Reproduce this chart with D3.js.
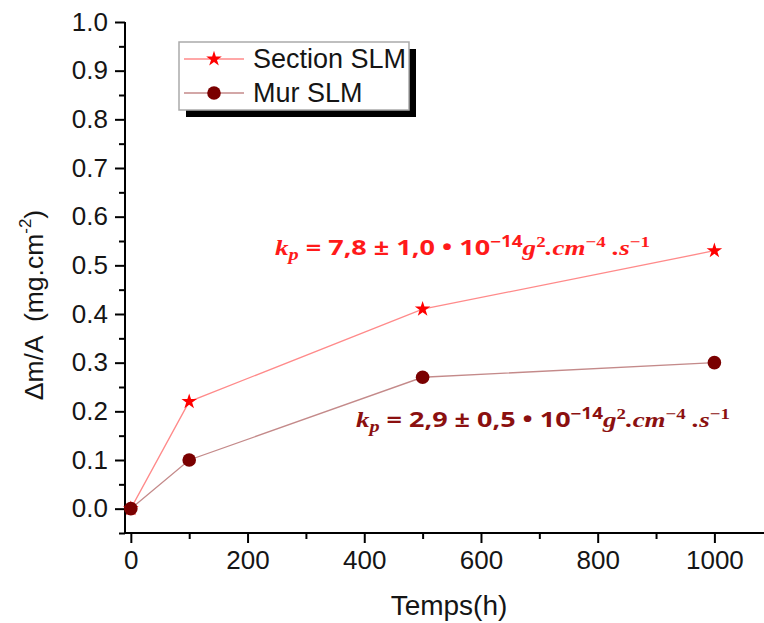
<!DOCTYPE html>
<html><head><meta charset="utf-8">
<script src="https://cdn.jsdelivr.net/npm/d3@7"></script>
<style>body{margin:0;background:#fff}svg{display:block}</style>
</head><body>
<svg id="c" width="764" height="623"></svg>
<script>
const timeH = [0, 100, 500, 1000];
const sectionSLM = [0, 0.22, 0.41, 0.53];
const murSLM = [0, 0.10, 0.27, 0.30];
const seriesNames = ["Section SLM", "Mur SLM"];
const yTicks = [0.0,0.1,0.2,0.3,0.4,0.5,0.6,0.7,0.8,0.9,1.0];
const xTicks = [0,200,400,600,800,1000];

const svg = d3.select("#c");
const x = d3.scaleLinear().domain([-10, 1085]).range([125, 764]);
const y = d3.scaleLinear().domain([-0.05, 1.0]).range([533, 22]);
const font = "'Liberation Sans', Arial, sans-serif";

const yAxis = d3.axisLeft(y).tickValues(yTicks).tickFormat(d3.format(".1f")).tickSize(10).tickPadding(7);
const yMinor = d3.axisLeft(y).tickValues(d3.range(-0.05, 1.0, 0.1).map(v=>+v.toFixed(2))).tickFormat("").tickSize(6);
const xAxis = d3.axisBottom(x).tickValues(xTicks).tickFormat(d3.format("d")).tickSize(10).tickPadding(8);
const xMinor = d3.axisBottom(x).tickValues([100,300,500,700,900]).tickFormat("").tickSize(6);

function style(g){
  g.select(".domain").attr("stroke","#000").attr("stroke-width",2);
  g.selectAll(".tick line").attr("stroke","#000").attr("stroke-width",2);
  g.selectAll(".tick text").attr("font-family",font).attr("font-size",26).attr("fill","#151515");
}
const gy = svg.append("g").attr("transform","translate(125,0)").call(yAxis).call(style);
gy.select(".domain").attr("d", `M0,${y(1.0)}V${y(-0.05)}`);
svg.append("g").attr("transform","translate(125,0)").call(yMinor).call(style).select(".domain").remove();
const gx = svg.append("g").attr("transform","translate(0,533)").call(xAxis).call(style);
gx.select(".domain").attr("d", `M125,0H764`);
svg.append("g").attr("transform","translate(0,533)").call(xMinor).call(style).select(".domain").remove();

// axis titles
const yt = svg.append("text").attr("transform","translate(43,305) rotate(-90)").style("white-space","pre")
  .attr("text-anchor","middle").attr("font-family",font).attr("font-size",26.5).attr("fill","#151515");
yt.append("tspan").text("\u0394m/A  (mg.cm");
yt.append("tspan").attr("font-size",17).attr("dy",-12).text("-2");
yt.append("tspan").attr("dy",12).text(")");
svg.append("text").attr("x",449).attr("y",615).attr("text-anchor","middle")
  .attr("font-family",font).attr("font-size",28).attr("fill","#151515").text("Temps(h)");

// series
const line = d3.line().x((d,i)=>x(timeH[i])).y(d=>y(d));
const star = d3.symbol().type(d3.symbolStar).size(75);
const colors = {secLine:"#ff8a8a", secMark:"#ff0000", murLine:"#c48a8a", murMark:"#7a0000"};

svg.append("path").datum(sectionSLM).attr("d",line).attr("fill","none").attr("stroke",colors.secLine).attr("stroke-width",1.3);
svg.selectAll(".st").data(sectionSLM).enter().append("path")
  .attr("transform",(d,i)=>`translate(${x(timeH[i])},${y(d)})`)
  .attr("d",star).attr("fill",colors.secMark);

svg.append("path").datum(murSLM).attr("d",line).attr("fill","none").attr("stroke",colors.murLine).attr("stroke-width",1.3);
svg.selectAll(".ci").data(murSLM).enter().append("circle")
  .attr("cx",(d,i)=>x(timeH[i])).attr("cy",d=>y(d)).attr("r",6.8).attr("fill",colors.murMark);

// legend
svg.append("rect").attr("x",186).attr("y",49).attr("width",230).attr("height",68).attr("fill","#000");
svg.append("rect").attr("x",179).attr("y",42).attr("width",230).attr("height",68).attr("fill","#fff").attr("stroke","#aaa").attr("stroke-width",1.5);
const leg = [{n:seriesNames[0], y:59, lc:colors.secLine, mc:colors.secMark, t:"star"},
             {n:seriesNames[1], y:93, lc:colors.murLine, mc:colors.murMark, t:"circle"}];
leg.forEach(l=>{
  svg.append("line").attr("x1",184).attr("x2",244).attr("y1",l.y).attr("y2",l.y).attr("stroke",l.lc).attr("stroke-width",1.3);
  if(l.t==="star") svg.append("path").attr("transform",`translate(214,${l.y})`).attr("d",star).attr("fill",l.mc);
  else svg.append("circle").attr("cx",214).attr("cy",l.y).attr("r",6.8).attr("fill",l.mc);
  svg.append("text").attr("x",253).attr("y",l.y+9).attr("font-family",font).attr("font-size",27).attr("fill","#151515").text(l.n);
});

// annotations
function kp(xp, yp, val, col, targetW){
  const t = svg.append("text").attr("x",xp).attr("y",yp).attr("fill",col).attr("font-weight","bold").attr("font-size",22);
  const it = "'Liberation Serif', 'DejaVu Serif', serif", up = "'Open Sans', 'Liberation Sans', sans-serif";
  const parts = [
    ["k",it,"italic",0,1],["p",it,"italic",5,0.75],[" = "+val+" \u2022 10",up,"normal",-5,1],
    ["\u221214",up,"normal",-8,0.7],["g",it,"italic",8,1],["2",it,"normal",-8,0.7],[".cm",it,"italic",8,1],
    ["\u22124",it,"normal",-8,0.7],[" .s",it,"italic",8,1],["\u22121",it,"normal",-8,0.7]];
  parts.forEach(p=>t.append("tspan").text(p[0]).attr("font-family",p[1]).attr("font-style",p[2]).attr("dy",p[3]).attr("font-size",22*p[4]));
  t.attr("textLength",targetW).attr("lengthAdjust","spacingAndGlyphs");
}
kp(275, 255, "7,8 \u00b1 1,0", "#ff1a1a", 375);
kp(356, 427, "2,9 \u00b1 0,5", "#8b1010", 374);
</script>
</body></html>
